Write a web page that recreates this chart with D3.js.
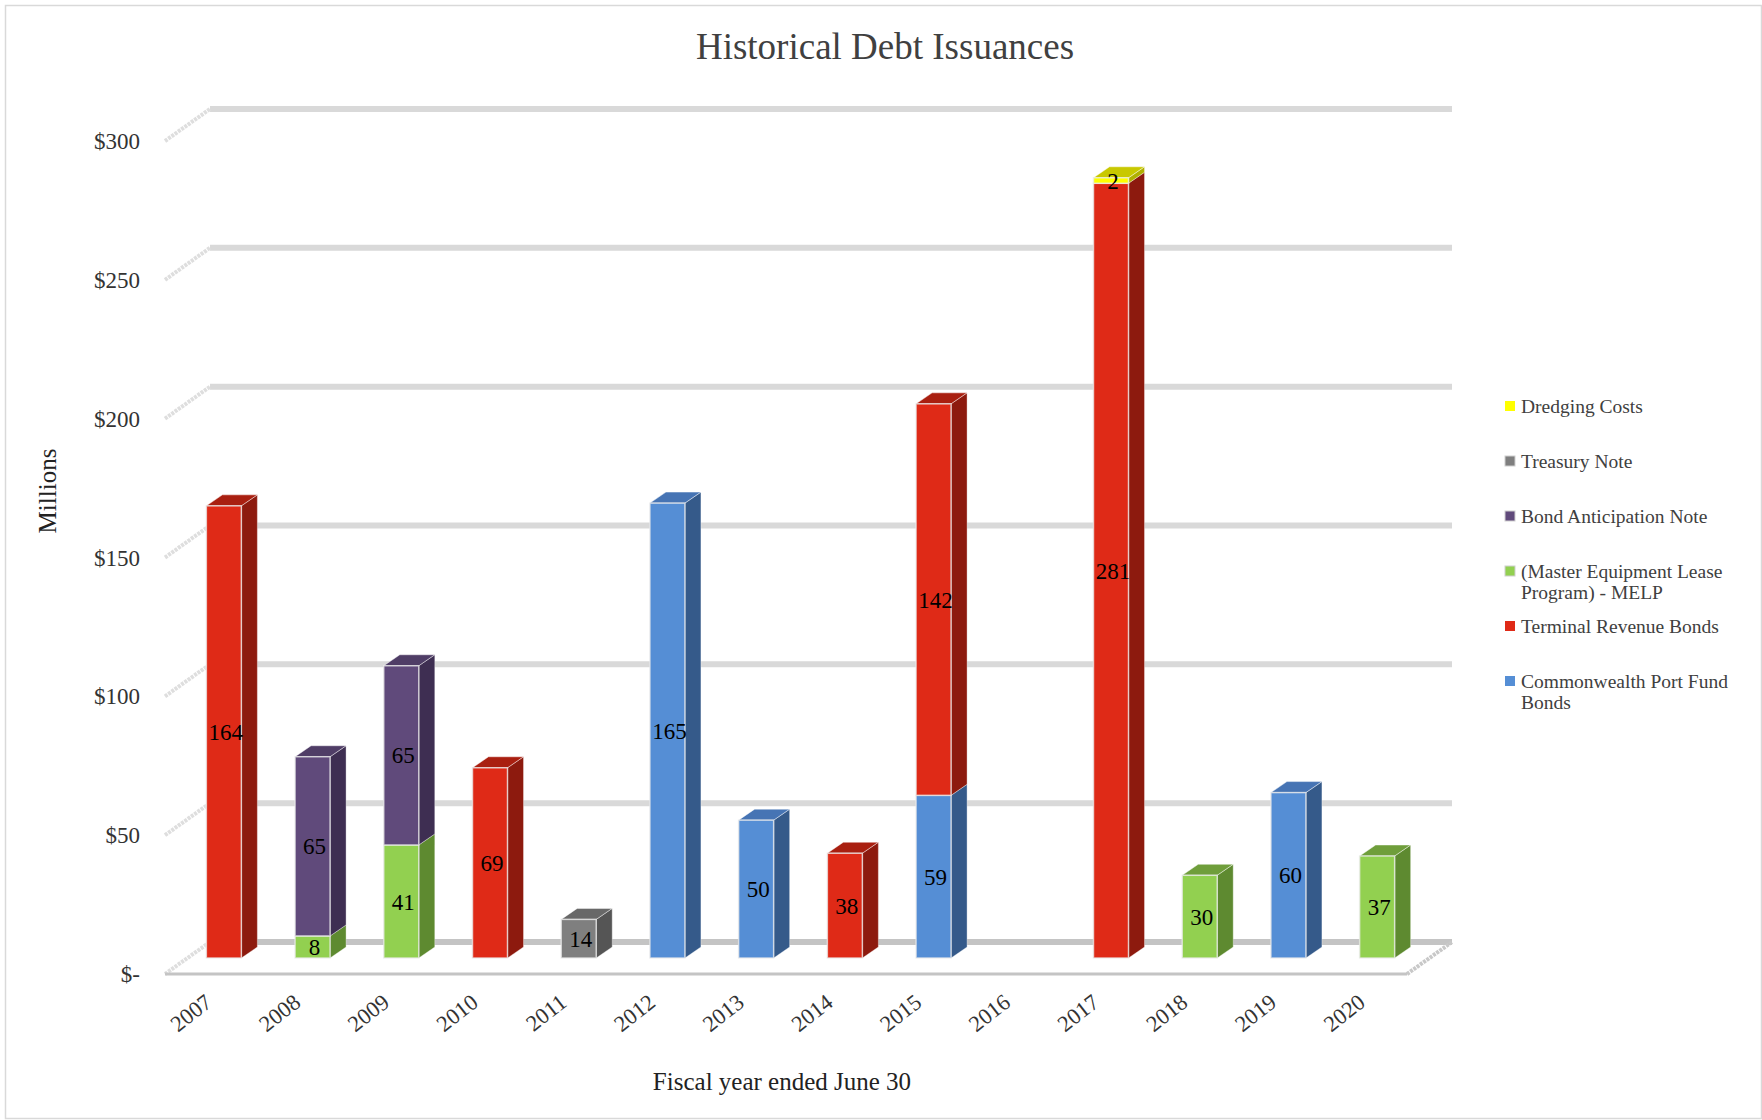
<!DOCTYPE html>
<html>
<head>
<meta charset="utf-8">
<script src="https://cdn.jsdelivr.net/npm/d3@7"></script>
<style>
  html, body { margin: 0; padding: 0; background: #fff; }
  svg { display: block; font-family: "Liberation Serif", "Times New Roman", serif; }
</style>
</head>
<body>
<svg id="chart" width="1762" height="1120"></svg>
<script>
// Fiscal years on the category axis
const years = ["2007","2008","2009","2010","2011","2012","2013","2014","2015","2016","2017","2018","2019","2020"];

// Issuance amounts by program, $ millions (stacked bottom to top in this order)
const commonwealthPortFund = [0, 0, 0, 0, 0, 165, 50, 0, 59, 0, 0, 0, 60, 0];
const terminalRevenue      = [164, 0, 0, 69, 0, 0, 0, 38, 142, 0, 281, 0, 0, 0];
const melp                 = [0, 8, 41, 0, 0, 0, 0, 0, 0, 0, 0, 30, 0, 37];
const bondAnticipation     = [0, 65, 65, 0, 0, 0, 0, 0, 0, 0, 0, 0, 0, 0];
const treasuryNote         = [0, 0, 0, 0, 14, 0, 0, 0, 0, 0, 0, 0, 0, 0];
const dredgingCosts        = [0, 0, 0, 0, 0, 0, 0, 0, 0, 0, 2, 0, 0, 0];

const seriesKeys = ["cpfb", "trb", "melp", "ban", "tn", "dc"];
const seriesValues = {
  cpfb: commonwealthPortFund, trb: terminalRevenue, melp: melp,
  ban: bondAnticipation, tn: treasuryNote, dc: dredgingCosts
};
// Legend runs top-down from the last stacked series
const legendOrder = ["dc", "tn", "ban", "melp", "trb", "cpfb"];
const legendLines = {
  dc: ["Dredging Costs"],
  tn: ["Treasury Note"],
  ban: ["Bond Anticipation Note"],
  melp: ["(Master Equipment Lease", "Program) - MELP"],
  trb: ["Terminal Revenue Bonds"],
  cpfb: ["Commonwealth Port Fund", "Bonds"]
};

const yTicks = [0, 50, 100, 150, 200, 250, 300];
const yTickLabels = ["$-", "$50", "$100", "$150", "$200", "$250", "$300"];

// Face colours: front, side, top
const palette = {
  cpfb: { front: "#558ed5", side: "#355a8a", top: "#4674b4" },
  trb:  { front: "#df2a17", side: "#8d1a0e", top: "#a91f10" },
  melp: { front: "#92d050", side: "#5e8a30", top: "#6f9e3b" },
  ban:  { front: "#604a7b", side: "#3e2e52", top: "#4f3d66" },
  tn:   { front: "#7f7f7f", side: "#555555", top: "#686868" },
  dc:   { front: "#ffff00", side: "#b0b000", top: "#c8c800" }
};

const svg = d3.select("#chart");
const W = 1762, H = 1120;

// Table rows for d3.stack
const table = years.map((yr, i) => {
  const row = { year: yr };
  seriesKeys.forEach(k => row[k] = seriesValues[k][i]);
  return row;
});
const stacked = d3.stack().keys(seriesKeys)(table);

// Projection: the floor has depth; walls sit at the back, bars at mid-depth
const wallDx = 45, wallDy = -32;        // full floor depth offset
const barDx = 16, barDy = -11;          // bar depth offset
const frontLeft = 165, frontRight = 1407;

// Bar plane (mid-depth) and back-wall plane value scales
const y = d3.scaleLinear().domain([0, 300]).range([958, 958 - 300 * 2.757]);
const yWall = d3.scaleLinear().domain([0, 300]).range([942, 109]);
const x = d3.scaleBand().domain(years)
  .range([frontLeft + wallDx / 2, frontRight + wallDx / 2]);
const barW = 35;

const yBack = v => yWall(v);
const yFront = v => yWall(v) - wallDy;

// Outer border
svg.append("rect").attr("x", 5.5).attr("y", 5.5).attr("width", W - 6).attr("height", H - 7)
  .attr("fill", "#fff").attr("stroke", "#d9d9d9").attr("stroke-width", 1.5);

// Title
svg.append("text").attr("x", 885).attr("y", 59).attr("text-anchor", "middle")
  .attr("font-size", 37).attr("fill", "#404040").text("Historical Debt Issuances");

// Back wall gridlines
const backX0 = frontLeft + wallDx, backX1 = frontRight + wallDx;
const grid = svg.append("g");
grid.selectAll("line.back").data(yTicks).join("line")
  .attr("class", "back")
  .attr("x1", backX0).attr("x2", backX1)
  .attr("y1", d => yBack(d)).attr("y2", d => yBack(d))
  .attr("stroke", d => d === 0 ? "#c4c4c4" : "#d9d9d9")
  .attr("stroke-width", 6);

// Side wall gridlines
grid.selectAll("line.side").data(yTicks).join("line")
  .attr("class", "side")
  .attr("x1", frontLeft).attr("y1", d => yFront(d))
  .attr("x2", backX0).attr("y2", d => yBack(d))
  .attr("stroke", "#dedede").attr("stroke-width", 4)
  .attr("stroke-dasharray", "3,1");

// Floor: front edge and right edge
grid.append("line")
  .attr("x1", frontLeft).attr("x2", frontRight)
  .attr("y1", yFront(0)).attr("y2", yFront(0))
  .attr("stroke", "#c4c4c4").attr("stroke-width", 3);
grid.append("line")
  .attr("x1", frontRight).attr("y1", yFront(0))
  .attr("x2", backX1).attr("y2", yBack(0))
  .attr("stroke", "#c8c8c8").attr("stroke-width", 4)
  .attr("stroke-dasharray", "3,1");

// Y tick labels
svg.append("g").selectAll("text").data(yTicks).join("text")
  .attr("x", 140).attr("y", d => yFront(d))
  .attr("dy", "0.35em").attr("text-anchor", "end")
  .attr("font-size", 23).attr("fill", "#333")
  .text((d, i) => yTickLabels[i]);

// X tick labels, slanted
svg.append("g").selectAll("text").data(years).join("text")
  .attr("transform", d => {
    const cx = x(d) - wallDx / 2 + x.bandwidth() / 2 + 4;
    return `translate(${cx},${yFront(0) + 31}) rotate(-38)`;
  })
  .attr("text-anchor", "end").attr("font-size", 22.5).attr("fill", "#333")
  .text(d => d);

// Axis titles
svg.append("text").attr("x", 782).attr("y", 1090).attr("text-anchor", "middle")
  .attr("font-size", 25).attr("fill", "#222").text("Fiscal year ended June 30");
svg.append("text").attr("transform", "translate(56,491) rotate(-90)")
  .attr("text-anchor", "middle").attr("font-size", 25).attr("fill", "#222").text("Millions");

// Bars
const barLeft = yr => x(yr) + x.bandwidth() / 2 - (barW + barDx) / 2;
const bars = svg.append("g");
const segments = [];
stacked.forEach(layer => {
  layer.forEach((seg, i) => {
    if (seg[1] - seg[0] > 0) {
      segments.push({ key: layer.key, year: years[i], i, y0: seg[0], y1: seg[1] });
    }
  });
});
// Which segment is topmost in each year
const topOf = {};
segments.forEach(s => {
  if (!topOf[s.year] || s.y1 > topOf[s.year].y1) topOf[s.year] = s;
});

segments.forEach(s => {
  const xl = barLeft(s.year), xr = xl + barW;
  const yb = y(s.y0), yt = y(s.y1);
  const c = palette[s.key];
  const g = bars.append("g");
  // side face
  g.append("polygon")
    .attr("points", [[xr, yb], [xr + barDx, yb + barDy], [xr + barDx, yt + barDy], [xr, yt]].join(" "))
    .attr("fill", c.side).attr("stroke", "rgba(255,255,255,0.35)").attr("stroke-width", 1);
  // top face on the uppermost segment
  if (topOf[s.year] === s) {
    g.append("polygon")
      .attr("points", [[xl, yt], [xl + barDx, yt + barDy], [xr + barDx, yt + barDy], [xr, yt]].join(" "))
      .attr("fill", c.top).attr("stroke", "rgba(255,255,255,0.45)").attr("stroke-width", 1);
  }
  // front face
  g.append("rect")
    .attr("x", xl).attr("y", yt).attr("width", barW).attr("height", yb - yt)
    .attr("fill", c.front).attr("stroke", "rgba(235,235,235,0.75)").attr("stroke-width", 1.5);
});

// Data labels
svg.append("g").selectAll("text").data(segments).join("text")
  .attr("x", d => barLeft(d.year) + barW / 2 + 2)
  .attr("y", d => (y(d.y0) + y(d.y1)) / 2)
  .attr("dy", "0.35em").attr("text-anchor", "middle")
  .attr("font-size", 23).attr("fill", "#000")
  .text(d => d.y1 - d.y0);

// Legend
const legend = svg.append("g");
legendOrder.forEach((k, i) => {
  const cy = 406 + i * 55;
  legend.append("rect").attr("x", 1505).attr("y", cy - 5).attr("width", 10).attr("height", 10)
    .attr("fill", palette[k].front)
    .attr("stroke", (k === "dc" || k === "trb" || k === "cpfb") ? "none" : "#cfcfcf")
    .attr("stroke-width", 1);
  legendLines[k].forEach((line, j) => {
    legend.append("text").attr("x", 1521).attr("y", cy + j * 21).attr("dy", "0.35em")
      .attr("font-size", 19.5).attr("fill", "#404040").text(line);
  });
});
</script>
</body>
</html>
